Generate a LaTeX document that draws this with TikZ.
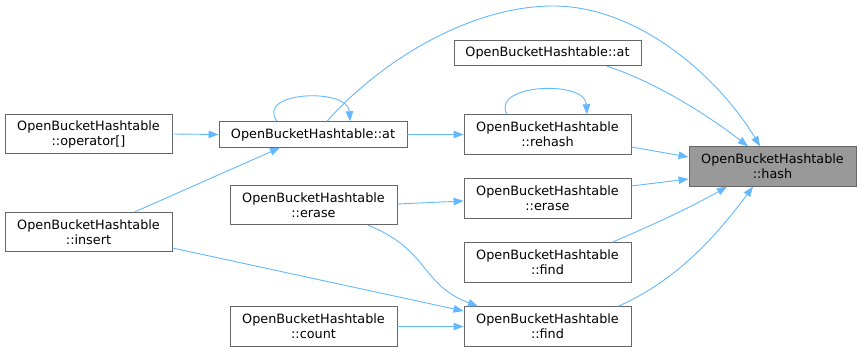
\documentclass[tikz,border=0pt]{standalone}
\usepackage{fontspec}
\setmainfont{DejaVu Sans}
\usepackage{xcolor}
\usetikzlibrary{arrows.meta}
\definecolor{edgeblue}{HTML}{63B8FF}
\definecolor{boxgray}{HTML}{666666}
\definecolor{focusgray}{HTML}{999999}

\begin{document}
\begin{tikzpicture}[x=1pt, y=-1pt, >={Triangle[length=10pt,width=7.5pt]},
  font=\fontsize{12.8}{15}\selectfont,
  fn/.style={draw=boxgray, fill=white, align=center, inner sep=2pt, minimum width=167pt, minimum height=39.5pt, line width=0.9pt},
  fnl/.style={fn, minimum width=188pt, minimum height=25.5pt},
  focus/.style={fn, fill=focusgray},
  call/.style={->, draw=edgeblue, line width=0.9pt}]
\useasboundingbox (0,0) rectangle (861,352);
% callers, left column
\node[fn] (opidx) at (88.5,134) {OpenBucketHashtable\\::operator[]};
\node[fn] (ins) at (88.5,232) {OpenBucketHashtable\\::insert};
% middle column
\node[fnl] (atm) at (313,134.5) {OpenBucketHashtable::at};
\node[fn] (erm) at (313.5,205) {OpenBucketHashtable\\::erase};
\node[fn] (cnt) at (313.5,326.5) {OpenBucketHashtable\\::count};
% right column
\node[fnl, minimum width=187pt] (att) at (547.5,53) {OpenBucketHashtable::at};
\node[fn] (reh) at (547.5,134.5) {OpenBucketHashtable\\::rehash};
\node[fn] (err) at (547.5,198.5) {OpenBucketHashtable\\::erase};
\node[fn] (fnd1) at (547.5,262.5) {OpenBucketHashtable\\::find};
\node[fn] (fnd2) at (547.5,326.5) {OpenBucketHashtable\\::find};
% the function itself
\node[focus] (hsh) at (772.5,166.5) {OpenBucketHashtable\\::hash};
% calls
\draw[call] (opidx.east) -- (atm.west);
\draw[call] ([xshift=46.5pt]ins.north) -- ([xshift=-33pt]atm.south);
\draw[call] ([xshift=-36pt]atm.north) .. controls +(-22,-30) and +(-2,-34) .. ([xshift=37pt]atm.north);
\draw[call] (atm.east) -- (reh.west);
\draw[call] ([xshift=14pt]atm.north) .. controls +(53,-60) and +(-83,0) .. (553,6)
  .. controls +(87,0) and +(-40,-67) .. ([xshift=-12.5pt]hsh.north);
\draw[call] ([xshift=59.5pt]att.south) .. controls +(43,14) and +(-48,-37) .. ([xshift=-24.5pt]hsh.north);
\draw[call] ([xshift=-40.5pt]reh.north) .. controls +(-17,-30) and +(-2,-35) .. ([xshift=39.5pt]reh.north);
\draw[call] ([yshift=-12.5pt]reh.east) -- ([yshift=9.5pt]hsh.west);
\draw[call] ([yshift=1pt]erm.east) -- ([yshift=-2.5pt]err.west);
\draw[call] ([yshift=12.5pt]err.east) -- ([yshift=-12.5pt]hsh.west);
\draw[call] ([xshift=64.5pt]fnd1.north) .. controls +(40,-17) and +(-35,20) .. ([xshift=-45.5pt]hsh.south);
\draw[call] ([xshift=70.5pt]fnd2.north) .. controls +(62,-27) and +(-33,44) .. ([xshift=-19.5pt]hsh.south);
\draw[call] ([xshift=54.5pt]erm.south) .. controls +(62,25) and +(-58,-22) .. ([xshift=-69.5pt]fnd2.north);
\draw[call] ([yshift=-16pt]ins.east) -- ([yshift=15.5pt]fnd2.west);
\draw[call] (cnt.east) -- (fnd2.west);
\end{tikzpicture}
\end{document}
